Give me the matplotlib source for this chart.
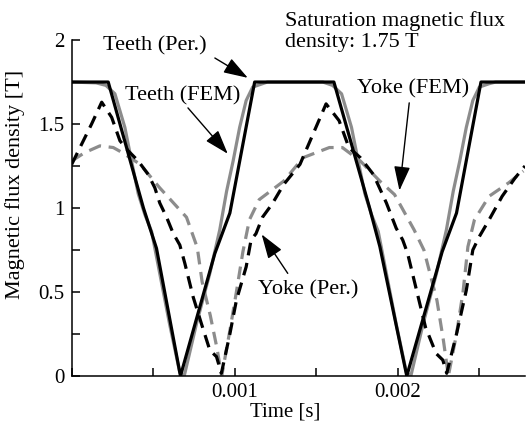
import matplotlib
matplotlib.use("Agg")
import matplotlib.pyplot as plt

plt.rcParams['font.family'] = ['Liberation Serif', 'DejaVu Serif']

# Teeth, permeance model (black solid)
teeth_per_t = [0, 0.000224, 0.00044, 0.00052, 0.000667, 0.000878, 0.00097, 0.001122,
               0.001608, 0.001827, 0.00189, 0.002055, 0.002272, 0.00236, 0.00251, 0.00278]
teeth_per_b = [1.75, 1.75, 1.0, 0.76, 0.0, 0.73, 0.97, 1.75,
               1.75, 1.0, 0.77, 0.0, 0.74, 0.97, 1.75, 1.75]

# Teeth, FEM (grey solid)
teeth_fem_t = [0, 0.00015, 0.00021, 0.000265, 0.000326, 0.000367, 0.000408, 0.000449,
               0.00049, 0.00054, 0.0006, 0.000663, 0.00069, 0.000765, 0.000847, 0.000908,
               0.00095, 0.00099, 0.00103, 0.00107, 0.00111, 0.00117, 0.0012,
               0.00154, 0.0016, 0.001655, 0.001716, 0.001757, 0.001798, 0.001839,
               0.00188, 0.00193, 0.00199, 0.002053, 0.00208, 0.002155, 0.002237, 0.002298,
               0.00234, 0.00238, 0.00242, 0.00246, 0.0025, 0.00256, 0.0026, 0.00278]
teeth_fem_b = [1.75, 1.745, 1.73, 1.68, 1.48, 1.28, 1.085, 0.96,
               0.86, 0.61, 0.31, 0.02, 0.0, 0.31, 0.61, 0.87,
               1.10, 1.28, 1.48, 1.64, 1.72, 1.74, 1.75,
               1.75, 1.73, 1.68, 1.48, 1.28, 1.085, 0.96,
               0.86, 0.61, 0.31, 0.02, 0.0, 0.31, 0.61, 0.87,
               1.10, 1.28, 1.48, 1.64, 1.72, 1.74, 1.75, 1.75]

# Yoke, permeance model (black dashed)
yoke_per_t = [0, 0.000122, 0.000184, 0.000245, 0.000296, 0.000347, 0.000408, 0.000469,
              0.00051, 0.00054, 0.000582, 0.000622, 0.000663, 0.000694, 0.000745, 0.000796,
              0.000847, 0.000888, 0.000918, 0.00097, 0.00101, 0.00107, 0.0011, 0.00113,
              0.00117, 0.00123, 0.0013, 0.0014, 0.00148, 0.00156, 0.00164, 0.0017,
              0.00177, 0.00185, 0.00193, 0.00199, 0.00203, 0.00206, 0.00211, 0.00217,
              0.002235, 0.002276, 0.0023, 0.00236, 0.00242, 0.00246, 0.0025, 0.00256,
              0.00264, 0.00272, 0.00278]
yoke_per_b = [1.26, 1.50, 1.63, 1.54, 1.40, 1.34, 1.28, 1.20,
              1.12, 1.03, 0.945, 0.85, 0.78, 0.67, 0.47, 0.31,
              0.154, 0.115, 0.016, 0.25, 0.45, 0.65, 0.81, 0.847,
              0.945, 1.025, 1.14, 1.26, 1.44, 1.62, 1.52, 1.36,
              1.30, 1.20, 1.03, 0.88, 0.81, 0.73, 0.53, 0.29,
              0.134, 0.095, 0.016, 0.25, 0.51, 0.75, 0.83, 0.93,
              1.07, 1.18, 1.25]

# Yoke, FEM (grey dashed)
yoke_fem_t = [0, 0.00008, 0.000173, 0.000255, 0.00031, 0.00042, 0.00054, 0.000704,
              0.00077, 0.0008, 0.00085, 0.00089, 0.00092, 0.00097, 0.00101, 0.00105,
              0.00109, 0.00115, 0.0013, 0.00142, 0.00158, 0.00166, 0.00177, 0.00189,
              0.00198, 0.0021, 0.00216, 0.00224, 0.00228, 0.00231, 0.00236, 0.0024,
              0.00243, 0.00247, 0.00256, 0.00268, 0.00277]
yoke_fem_b = [1.28, 1.33, 1.37, 1.36, 1.33, 1.26, 1.12, 0.945,
              0.765, 0.56, 0.36, 0.17, 0.0, 0.27, 0.5, 0.74,
              0.93, 1.05, 1.16, 1.30, 1.36, 1.36, 1.28, 1.16,
              1.08, 0.87, 0.75, 0.45, 0.21, 0.0, 0.25, 0.5,
              0.77, 0.93, 1.07, 1.15, 1.22]

grey = '#8c8c8c'
fs = 15      # ticks, x label
fs_note = 16  # annotations, y label

fig = plt.figure(figsize=(5.28, 4.21), dpi=100)
ax = fig.add_axes([0.1358, 0.1069, 0.8585, 0.798])

ax.plot(yoke_fem_t, yoke_fem_b, color=grey, lw=2.3, dashes=(4, 2.4))
ax.plot(teeth_fem_t, teeth_fem_b, color=grey, lw=2.3)
ax.plot(yoke_per_t, yoke_per_b, color='black', lw=2.3, dashes=(4, 2.4))
ax.plot(teeth_per_t, teeth_per_b, color='black', lw=2.3)

ax.set_xlim(0, 0.00278)
ax.set_ylim(0, 2)
ax.set_xticks([0, 0.001, 0.002])
ax.set_xticklabels(['', '0.001', '0.002'])
ax.set_xticks([0.0005, 0.0015, 0.0025], minor=True)
ax.set_yticks([0, 0.5, 1, 1.5, 2])
ax.set_yticklabels(['0', '0.5', '1', '1.5', '2'])
ax.set_yticks([0.25, 0.75, 1.25, 1.75], minor=True)
ax.tick_params(which='both', direction='in', width=1.1, length=6, labelsize=fs)
ax.tick_params(axis='x', pad=5)
ax.tick_params(axis='y', pad=5)
for s in ['top', 'right']:
    ax.spines[s].set_visible(False)
for s in ['left', 'bottom']:
    ax.spines[s].set_linewidth(1.1)

ax.set_xlabel('Time [s]', fontsize=fs)
ax.set_ylabel('Magnetic flux density [T]', fontsize=fs_note)
ax.xaxis.set_label_coords(0.47, -0.08)
ax.yaxis.set_label_coords(-0.103, 0.571)

arrow = dict(arrowstyle='-|>,head_length=0.75,head_width=0.25', mutation_scale=20,
             color='black', lw=1.0, shrinkA=0, shrinkB=0)

ax.text(0.000192, 1.964, 'Teeth (Per.)', fontsize=fs_note, ha='left', va='center')
ax.annotate('', xy=(0.00108, 1.775), xytext=(0.000878, 1.893), arrowprops=arrow)

ax.text(0.000327, 1.668, 'Teeth (FEM)', fontsize=fs_note, ha='left', va='center')
ax.annotate('', xy=(0.000957, 1.323), xytext=(0.000713, 1.596), arrowprops=arrow)

ax.text(0.001306, 2.05, 'Saturation magnetic flux\ndensity: 1.75 T', fontsize=fs_note,
        ha='left', va='center', linespacing=1.1, clip_on=False)

ax.text(0.001747, 1.709, 'Yoke (FEM)', fontsize=fs_note, ha='left', va='center')
ax.annotate('', xy=(0.00201, 1.104), xytext=(0.00207, 1.626), arrowprops=arrow)

ax.text(0.00114, 0.51, 'Yoke (Per.)', fontsize=fs_note, ha='left', va='center')
ax.annotate('', xy=(0.001165, 0.843), xytext=(0.001325, 0.611), arrowprops=arrow)

fig.savefig('out.png', dpi=100)
